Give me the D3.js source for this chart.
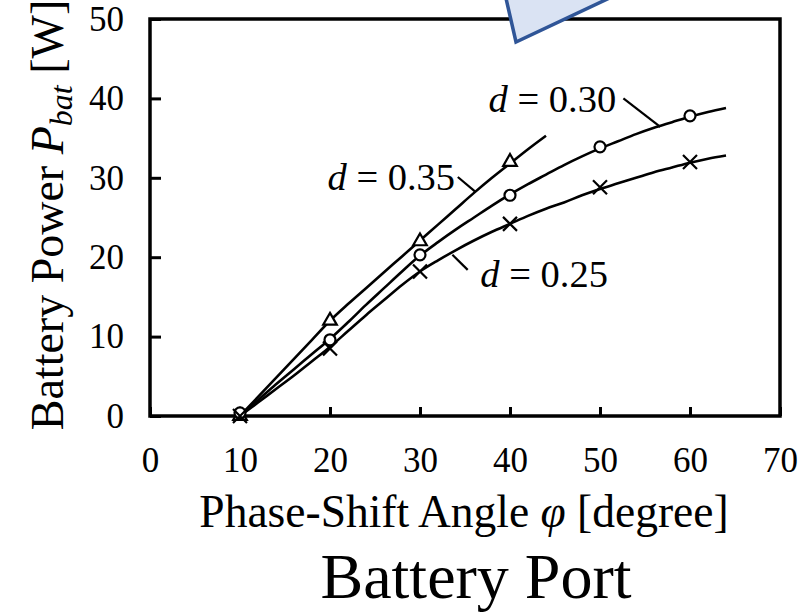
<!DOCTYPE html>
<html>
<head>
<meta charset="utf-8">
<script src="https://cdn.jsdelivr.net/npm/d3@7"></script>
<style>
  html, body { margin: 0; padding: 0; background: #fff; }
  svg { display: block; font-family: "Liberation Serif", "Times New Roman", serif; }
</style>
</head>
<body>
<svg id="chart" width="812" height="612"></svg>
<script>
// Measured battery power versus phase-shift angle for three duty ratios
const phi35 = [10, 12, 14, 16, 18, 20, 22, 24, 26, 28, 30, 32, 34, 36, 38, 40, 42, 44];
const pow35 = [0, 2.4, 4.8, 7.2, 9.6, 12.0, 14.1, 16.1, 18.1, 20.1, 22.1, 24.1, 26.1, 28.1, 30.0, 31.8, 33.6, 35.3];

const phi30 = [10, 12, 14, 16, 18, 20, 22, 24, 26, 28, 30, 32, 34, 36, 38, 40, 42, 44, 46, 48, 50, 52, 54, 56, 58, 60, 62, 64];
const pow30 = [0, 2.0, 4.0, 5.9, 7.8, 9.7, 11.8, 14.0, 16.1, 18.2, 20.2, 21.9, 23.5, 25.0, 26.5, 27.9, 29.2, 30.4, 31.6, 32.7, 33.7, 34.6, 35.5, 36.3, 37.0, 37.7, 38.3, 38.8];

const phi25 = [10, 12, 14, 16, 18, 20, 22, 24, 26, 28, 30, 32, 34, 36, 38, 40, 42, 44, 46, 48, 50, 52, 54, 56, 58, 60, 62, 64];
const pow25 = [0, 1.7, 3.4, 5.1, 6.9, 8.7, 10.7, 12.7, 14.6, 16.5, 18.2, 19.6, 20.9, 22.1, 23.2, 24.2, 25.2, 26.1, 26.9, 27.8, 28.6, 29.3, 30.0, 30.7, 31.3, 31.9, 32.4, 32.8];

// Calculated points (markers)
const mPhi35 = [10, 20, 30, 40];
const mPow35 = [0, 12.0, 22.0, 32.0];
const mPhi30 = [10, 20, 30, 40, 50, 60];
const mPow30 = [0.4, 9.6, 20.3, 27.8, 33.9, 37.8];
const mPhi25 = [10, 20, 30, 40, 50, 60];
const mPow25 = [0, 8.5, 18.2, 24.2, 28.8, 32.0];

const xTicks = [0, 10, 20, 30, 40, 50, 60, 70];
const yTicks = [0, 10, 20, 30, 40, 50];

const svg = d3.select("#chart");
const x = d3.scaleLinear().domain([0, 70]).range([150, 780]);
const y = d3.scaleLinear().domain([0, 50]).range([416, 19]);

const zip = (a, b) => a.map((v, i) => [v, b[i]]);

// Axes with inward ticks
svg.append("g")
  .attr("transform", `translate(0,${y(0)})`)
  .call(d3.axisBottom(x).tickValues(xTicks).tickSizeInner(-9).tickSizeOuter(0).tickPadding(31))
  .call(g => g.select(".domain").remove())
  .call(g => g.selectAll("line").attr("stroke", "#000").attr("stroke-width", 3))
  .call(g => g.selectAll("text").attr("font-size", 35).attr("fill", "#000").attr("font-family", "Liberation Serif"));

svg.append("g")
  .attr("transform", `translate(${x(0)},0)`)
  .call(d3.axisLeft(y).tickValues(yTicks).tickSizeInner(-11).tickSizeOuter(0).tickPadding(26))
  .call(g => g.select(".domain").remove())
  .call(g => g.selectAll("line").attr("stroke", "#000").attr("stroke-width", 3))
  .call(g => g.selectAll("text").attr("font-size", 35).attr("fill", "#000").attr("font-family", "Liberation Serif"));

// Plot frame
svg.append("rect")
  .attr("x", x(0)).attr("y", y(50))
  .attr("width", x(70) - x(0)).attr("height", y(0) - y(50))
  .attr("fill", "none").attr("stroke", "#000").attr("stroke-width", 3.5);

// Measured curves
const line = d3.line().x(d => x(d[0])).y(d => y(d[1])).curve(d3.curveCatmullRom);
[[phi35, pow35], [phi30, pow30], [phi25, pow25]].forEach(([a, b]) => {
  svg.append("path").datum(zip(a, b))
    .attr("d", line)
    .attr("fill", "none").attr("stroke", "#000").attr("stroke-width", 2.6);
});

// Markers
const g = svg.append("g").attr("fill", "#fff").attr("stroke", "#000").attr("stroke-width", 2.2);
g.selectAll(".tri").data(zip(mPhi35, mPow35)).join("path")
  .attr("transform", d => `translate(${x(d[0])},${y(d[1])})`)
  .attr("d", d3.symbol(d3.symbolTriangle, 80));
g.selectAll(".circ").data(zip(mPhi30, mPow30)).join("circle")
  .attr("cx", d => x(d[0])).attr("cy", d => y(d[1])).attr("r", 5.5);
g.selectAll(".cross").data(zip(mPhi25, mPow25)).join("path")
  .attr("transform", d => `translate(${x(d[0])},${y(d[1])})`)
  .attr("d", "M-7,-7L7,7M-7,7L7,-7");

// Curve labels with leader lines (data coordinates)
const labels = [
  { text: "0.35", tx: 33.9, ty: 28.5, anchor: "end",   l: [[34.2, 30.1], [36.1, 28.3]] },
  { text: "0.30", tx: 51.8, ty: 38.3, anchor: "end",   l: [[52.6, 40.0], [56.7, 36.4]] },
  { text: "0.25", tx: 36.7, ty: 16.2, anchor: "start", l: [[33.6, 20.3], [35.3, 18.4]] }
];
labels.forEach(o => {
  svg.append("line")
    .attr("x1", x(o.l[0][0])).attr("y1", y(o.l[0][1]))
    .attr("x2", x(o.l[1][0])).attr("y2", y(o.l[1][1]))
    .attr("stroke", "#000").attr("stroke-width", 2.2);
  const t = svg.append("text")
    .attr("x", x(o.tx)).attr("y", y(o.ty))
    .attr("text-anchor", o.anchor).attr("font-size", 38.5);
  t.append("tspan").attr("font-style", "italic").text("d");
  t.append("tspan").text(" = " + o.text);
});

// Axis titles
const xt = svg.append("text").attr("x", 464).attr("y", 527)
  .attr("text-anchor", "middle").attr("font-size", 45.5);
xt.append("tspan").text("Phase-Shift Angle ");
xt.append("tspan").attr("font-style", "italic").text("φ");
xt.append("tspan").text(" [degree]");

const yt = svg.append("text").attr("transform", "translate(63,215) rotate(-90)")
  .attr("text-anchor", "middle").attr("font-size", 46);
yt.append("tspan").text("Battery Power ");
yt.append("tspan").attr("font-style", "italic").text("P");
yt.append("tspan").attr("font-style", "italic").attr("font-size", 32).attr("baseline-shift", "-9").text("bat");
yt.append("tspan").text(" [W]");

svg.append("text").attr("x", 476).attr("y", 598)
  .attr("text-anchor", "middle").attr("font-size", 64).text("Battery Port");

// Callout shape overlapping the top of the frame
svg.append("path")
  .attr("d", "M505,-6L516,42L618,-6Z")
  .attr("fill", "#dae3f3").attr("stroke", "#2f5597").attr("stroke-width", 3.5)
  .attr("stroke-linejoin", "miter");
</script>
</body>
</html>
